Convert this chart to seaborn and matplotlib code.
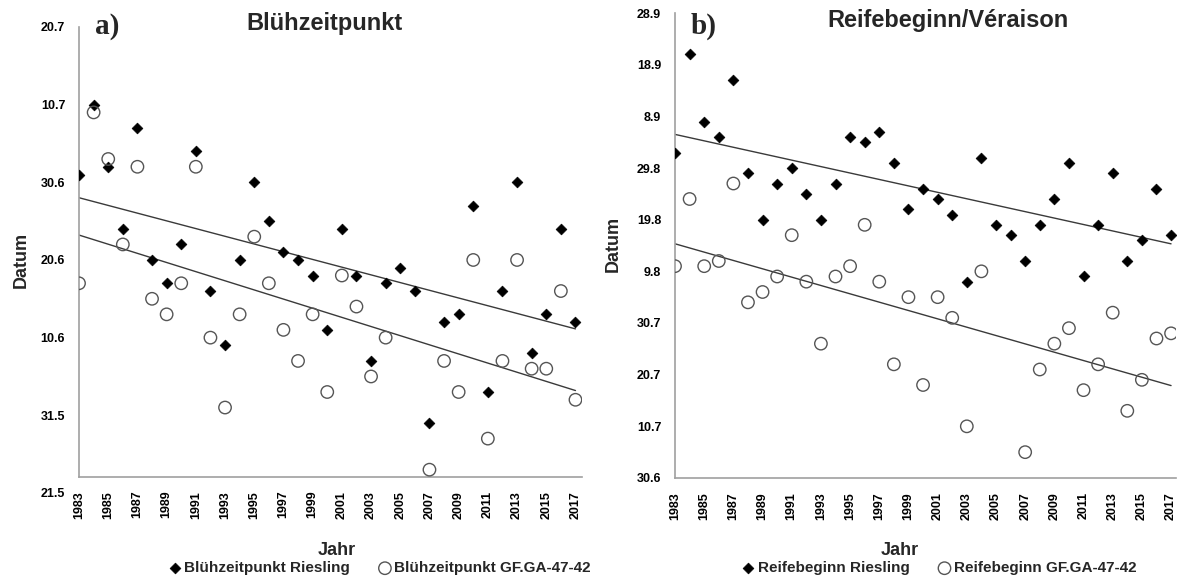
import matplotlib
matplotlib.use('Agg')
import matplotlib.pyplot as plt
import numpy as np
import pandas as pd
import seaborn as sns

# Tag im Jahr (Tag des Jahres, ohne Schaltjahr) je Jahr 1983-2017
jahre = list(range(1983, 2018))

bluete_riesling = [182, 191, 183, 175, 188, 171, 168, 173, 185, 167,
                   160, 171, 181, 176, 172, 171, 169, 162, 175, 169,
                   158, 168, 170, 167, 150, 163, 164, 178, 154, 167,
                   181, 159, 164, 175, 163]
bluete_gf = [168, 190, 184, 173, 183, 166, 164, 168, 183, 161,
             152, 164, 174, 168, 162, 158, 164, 154, 169, 165,
             156, 161, np.nan, np.nan, 144, 158, 154, 171, 148, 158,
             171, 157, 157, 167, 153]

reife_riesling = [244, 263, 250, 247, 258, 240, 231, 238, 241, 236,
                  231, 238, 247, 246, 248, 242, 233, 237, 235, 232,
                  219, 243, 230, 228, 223, 230, 235, 242, 220, 230,
                  240, 223, 227, 237, 228]
reife_gf = [222, 235, 222, 223, 238, 215, 217, 220, 228, 219,
            207, 220, 222, 230, 219, 203, 216, 199, 216, 212,
            191, 221, np.nan, np.nan, 186, 202, 207, 210, 198, 203,
            213, 194, 200, 208, 209]

bluete_ticks = [141, 151, 161, 171, 181, 191, 201]
bluete_labels = ['21.5', '31.5', '10.6', '20.6', '30.6', '10.7', '20.7']
reife_ticks = [181, 191, 201, 211, 221, 231, 241, 251, 261, 271]
reife_labels = ['30.6', '10.7', '20.7', '30.7', '9.8', '19.8', '29.8', '8.9', '18.9', '28.9']
jahr_ticks = list(range(1983, 2018, 2))

sns.set_style('white')
plt.rcParams['font.family'] = ['Liberation Sans', 'DejaVu Sans']
plt.rcParams['font.weight'] = 'bold'

fig = plt.figure(figsize=(11.83, 5.81), dpi=100)
ax1 = fig.add_axes([0.0668, 0.1515, 0.4252, 0.8021])
ax2 = fig.add_axes([0.5706, 0.1773, 0.4235, 0.8003])

achsen_grau = '#a0a0a0'


def panel(ax, werte_a, werte_b, name_a, name_b, ticks, labels, xmax, kreuzung=None):
    df = pd.DataFrame({'Jahr': jahre, 'a': werte_a, 'b': werte_b})
    sns.regplot(data=df, x='Jahr', y='a', scatter=False, ci=None, ax=ax,
                color='#3a3a3a', line_kws={'linewidth': 1.0})
    sns.regplot(data=df, x='Jahr', y='b', scatter=False, ci=None, ax=ax,
                color='#3a3a3a', line_kws={'linewidth': 1.0})
    sns.scatterplot(data=df, x='Jahr', y='a', marker='D', s=30, color='black',
                    edgecolor='black', linewidth=0.5, ax=ax, label=name_a, zorder=3)
    sns.scatterplot(data=df, x='Jahr', y='b', marker='o', s=80, facecolor='none',
                    edgecolor='#555555', linewidth=1.0, ax=ax, label=name_b, zorder=3)

    for s in ['top', 'right']:
        ax.spines[s].set_visible(False)
    for s in ['left', 'bottom']:
        ax.spines[s].set_color(achsen_grau)
        ax.spines[s].set_linewidth(1.2)
    if kreuzung is not None:
        # x-Achse kreuzt knapp über dem Minimum
        ax.spines['bottom'].set_position(('data', kreuzung))
        ax.spines['left'].set_bounds(kreuzung, ticks[-1])

    ax.set_xlim(1983, xmax)
    ax.set_ylim(ticks[0], ticks[-1])
    ax.set_yticks(ticks)
    ax.set_yticklabels(labels)
    ax.set_xticks(jahr_ticks)
    ax.set_xticklabels([str(j) for j in jahr_ticks], rotation=90)
    ax.tick_params(axis='both', direction='out', length=4, width=1,
                   color=achsen_grau, labelsize=9, labelcolor='black')
    ax.tick_params(axis='x', pad=6)
    ax.tick_params(axis='y', pad=6)
    ax.set_xlabel('Jahr', fontsize=13, fontweight='bold')
    ax.set_ylabel('Datum', fontsize=13, fontweight='bold')


panel(ax1, bluete_riesling, bluete_gf, 'Blühzeitpunkt Riesling',
      'Blühzeitpunkt GF.GA-47-42', bluete_ticks, bluete_labels, 2017.45, kreuzung=143.06)
panel(ax2, reife_riesling, reife_gf, 'Reifebeginn Riesling',
      'Reifebeginn GF.GA-47-42', reife_ticks, reife_labels, 2017.34)

ax1.yaxis.set_label_coords(-0.097, 0.5)
ax1.xaxis.set_label_coords(0.513, -0.105)
ax2.yaxis.set_label_coords(-0.106, 0.503)
ax2.xaxis.set_label_coords(0.449, -0.138)

for ax, cx in [(ax1, 0.321), (ax2, 0.794)]:
    ax.legend(loc='center', bbox_to_anchor=(cx, 0.022), bbox_transform=fig.transFigure,
              ncol=2, frameon=False, fontsize=11, handletextpad=0.2,
              columnspacing=1.9, handlelength=0.8, borderpad=0)

fig.text(0.0904, 0.955, 'a)', fontsize=21, fontweight='bold',
         family=['Liberation Serif', 'DejaVu Serif'], ha='center', va='center')
fig.text(0.2739, 0.960, 'Blühzeitpunkt', fontsize=17, fontweight='bold',
         ha='center', va='center')
fig.text(0.5951, 0.955, 'b)', fontsize=21, fontweight='bold',
         family=['Liberation Serif', 'DejaVu Serif'], ha='center', va='center')
fig.text(0.8014, 0.964, 'Reifebeginn/Véraison', fontsize=17, fontweight='bold',
         ha='center', va='center')

fig.savefig('out.png', dpi=100, facecolor='white')
